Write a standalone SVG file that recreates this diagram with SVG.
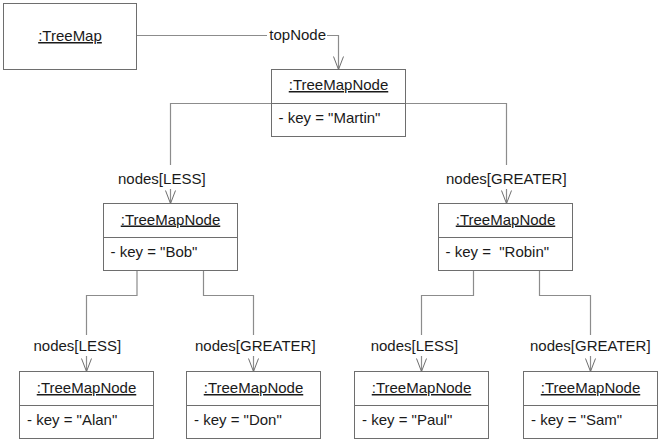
<svg xmlns="http://www.w3.org/2000/svg" width="660" height="441" viewBox="0 0 660 441">
<style>
text{font-family:"Liberation Sans",Arial,sans-serif;font-size:15px;fill:#1a1a1a;white-space:pre}
.t{text-anchor:middle;text-decoration:underline}
.box{fill:#fff;stroke:#6e6e6e;stroke-width:1}
.sep{stroke:#6e6e6e;stroke-width:1}
.c{fill:none;stroke:#8c8c8c;stroke-width:1.2}
</style>
<defs>
<marker id="arr" markerUnits="userSpaceOnUse" markerWidth="16" markerHeight="14" viewBox="0 0 16 14" refX="14" refY="7" orient="auto">
<path d="M1,2 L14,7 L1,12" fill="none" stroke="#6e6e6e" stroke-width="1"/>
</marker>
</defs>
<g id="connectors">
<path class="c" d="M136.5,35.5 H267"/>
<path class="c" d="M327,35.5 H338.5 V69.5" marker-end="url(#arr)"/>
<text x="269.3" y="40">topNode</text>
<path class="c" d="M271.5,103.5 H170.5 V165"/>
<path class="c" d="M170.5,189 V203.5" marker-end="url(#arr)"/>
<text x="118" y="183.5">nodes[LESS]</text>
<path class="c" d="M405.5,103.5 H506.5 V165"/>
<path class="c" d="M506.5,189 V203.5" marker-end="url(#arr)"/>
<text x="446" y="183.5">nodes[GREATER]</text>
<path class="c" d="M137,270.5 V295.5 H86.5 V335"/>
<path class="c" d="M86.5,356 V371.5" marker-end="url(#arr)"/>
<text x="33.5" y="351">nodes[LESS]</text>
<path class="c" d="M203.5,270.5 V295.5 H253.5 V335"/>
<path class="c" d="M253.5,356 V371.5" marker-end="url(#arr)"/>
<text x="195" y="351">nodes[GREATER]</text>
<path class="c" d="M473.5,270.5 V295.5 H421.5 V335"/>
<path class="c" d="M421.5,356 V371.5" marker-end="url(#arr)"/>
<text x="370.7" y="351">nodes[LESS]</text>
<path class="c" d="M539.5,270.5 V295.5 H590.5 V335"/>
<path class="c" d="M590.5,356 V371.5" marker-end="url(#arr)"/>
<text x="530" y="351">nodes[GREATER]</text>
</g>
<g id="treemap">
<rect class="box" x="3.5" y="3.5" width="133" height="66"/>
<text class="t" x="70" y="41">:TreeMap</text>
</g>
<g id="martin">
<rect class="box" x="271.5" y="69.5" width="134" height="67"/>
<line class="sep" x1="271.5" y1="103.5" x2="405.5" y2="103.5"/>
<text class="t" x="338.5" y="90">:TreeMapNode</text>
<text x="278.5" y="122.5">- key = "Martin"</text>
</g>
<g id="bob">
<rect class="box" x="103.5" y="203.5" width="134" height="67"/>
<line class="sep" x1="103.5" y1="237.5" x2="237.5" y2="237.5"/>
<text class="t" x="170.5" y="224.5">:TreeMapNode</text>
<text x="110.5" y="257">- key = "Bob"</text>
</g>
<g id="robin">
<rect class="box" x="438.5" y="203.5" width="134" height="67"/>
<line class="sep" x1="438.5" y1="237.5" x2="572.5" y2="237.5"/>
<text class="t" x="505.5" y="224.5">:TreeMapNode</text>
<text x="445.5" y="257">- key =  "Robin"</text>
</g>
<g id="alan">
<rect class="box" x="19.5" y="371.5" width="134" height="67"/>
<line class="sep" x1="19.5" y1="405.5" x2="153.5" y2="405.5"/>
<text class="t" x="86.5" y="393">:TreeMapNode</text>
<text x="27" y="425">- key = "Alan"</text>
</g>
<g id="don">
<rect class="box" x="186.5" y="371.5" width="134" height="67"/>
<line class="sep" x1="186.5" y1="405.5" x2="320.5" y2="405.5"/>
<text class="t" x="253.5" y="393">:TreeMapNode</text>
<text x="194" y="425">- key = "Don"</text>
</g>
<g id="paul">
<rect class="box" x="354.5" y="371.5" width="134" height="67"/>
<line class="sep" x1="354.5" y1="405.5" x2="488.5" y2="405.5"/>
<text class="t" x="421.5" y="393">:TreeMapNode</text>
<text x="362" y="425">- key = "Paul"</text>
</g>
<g id="sam">
<rect class="box" x="523.5" y="371.5" width="134" height="67"/>
<line class="sep" x1="523.5" y1="405.5" x2="657.5" y2="405.5"/>
<text class="t" x="590.5" y="393">:TreeMapNode</text>
<text x="531" y="425">- key = "Sam"</text>
</g>
</svg>
